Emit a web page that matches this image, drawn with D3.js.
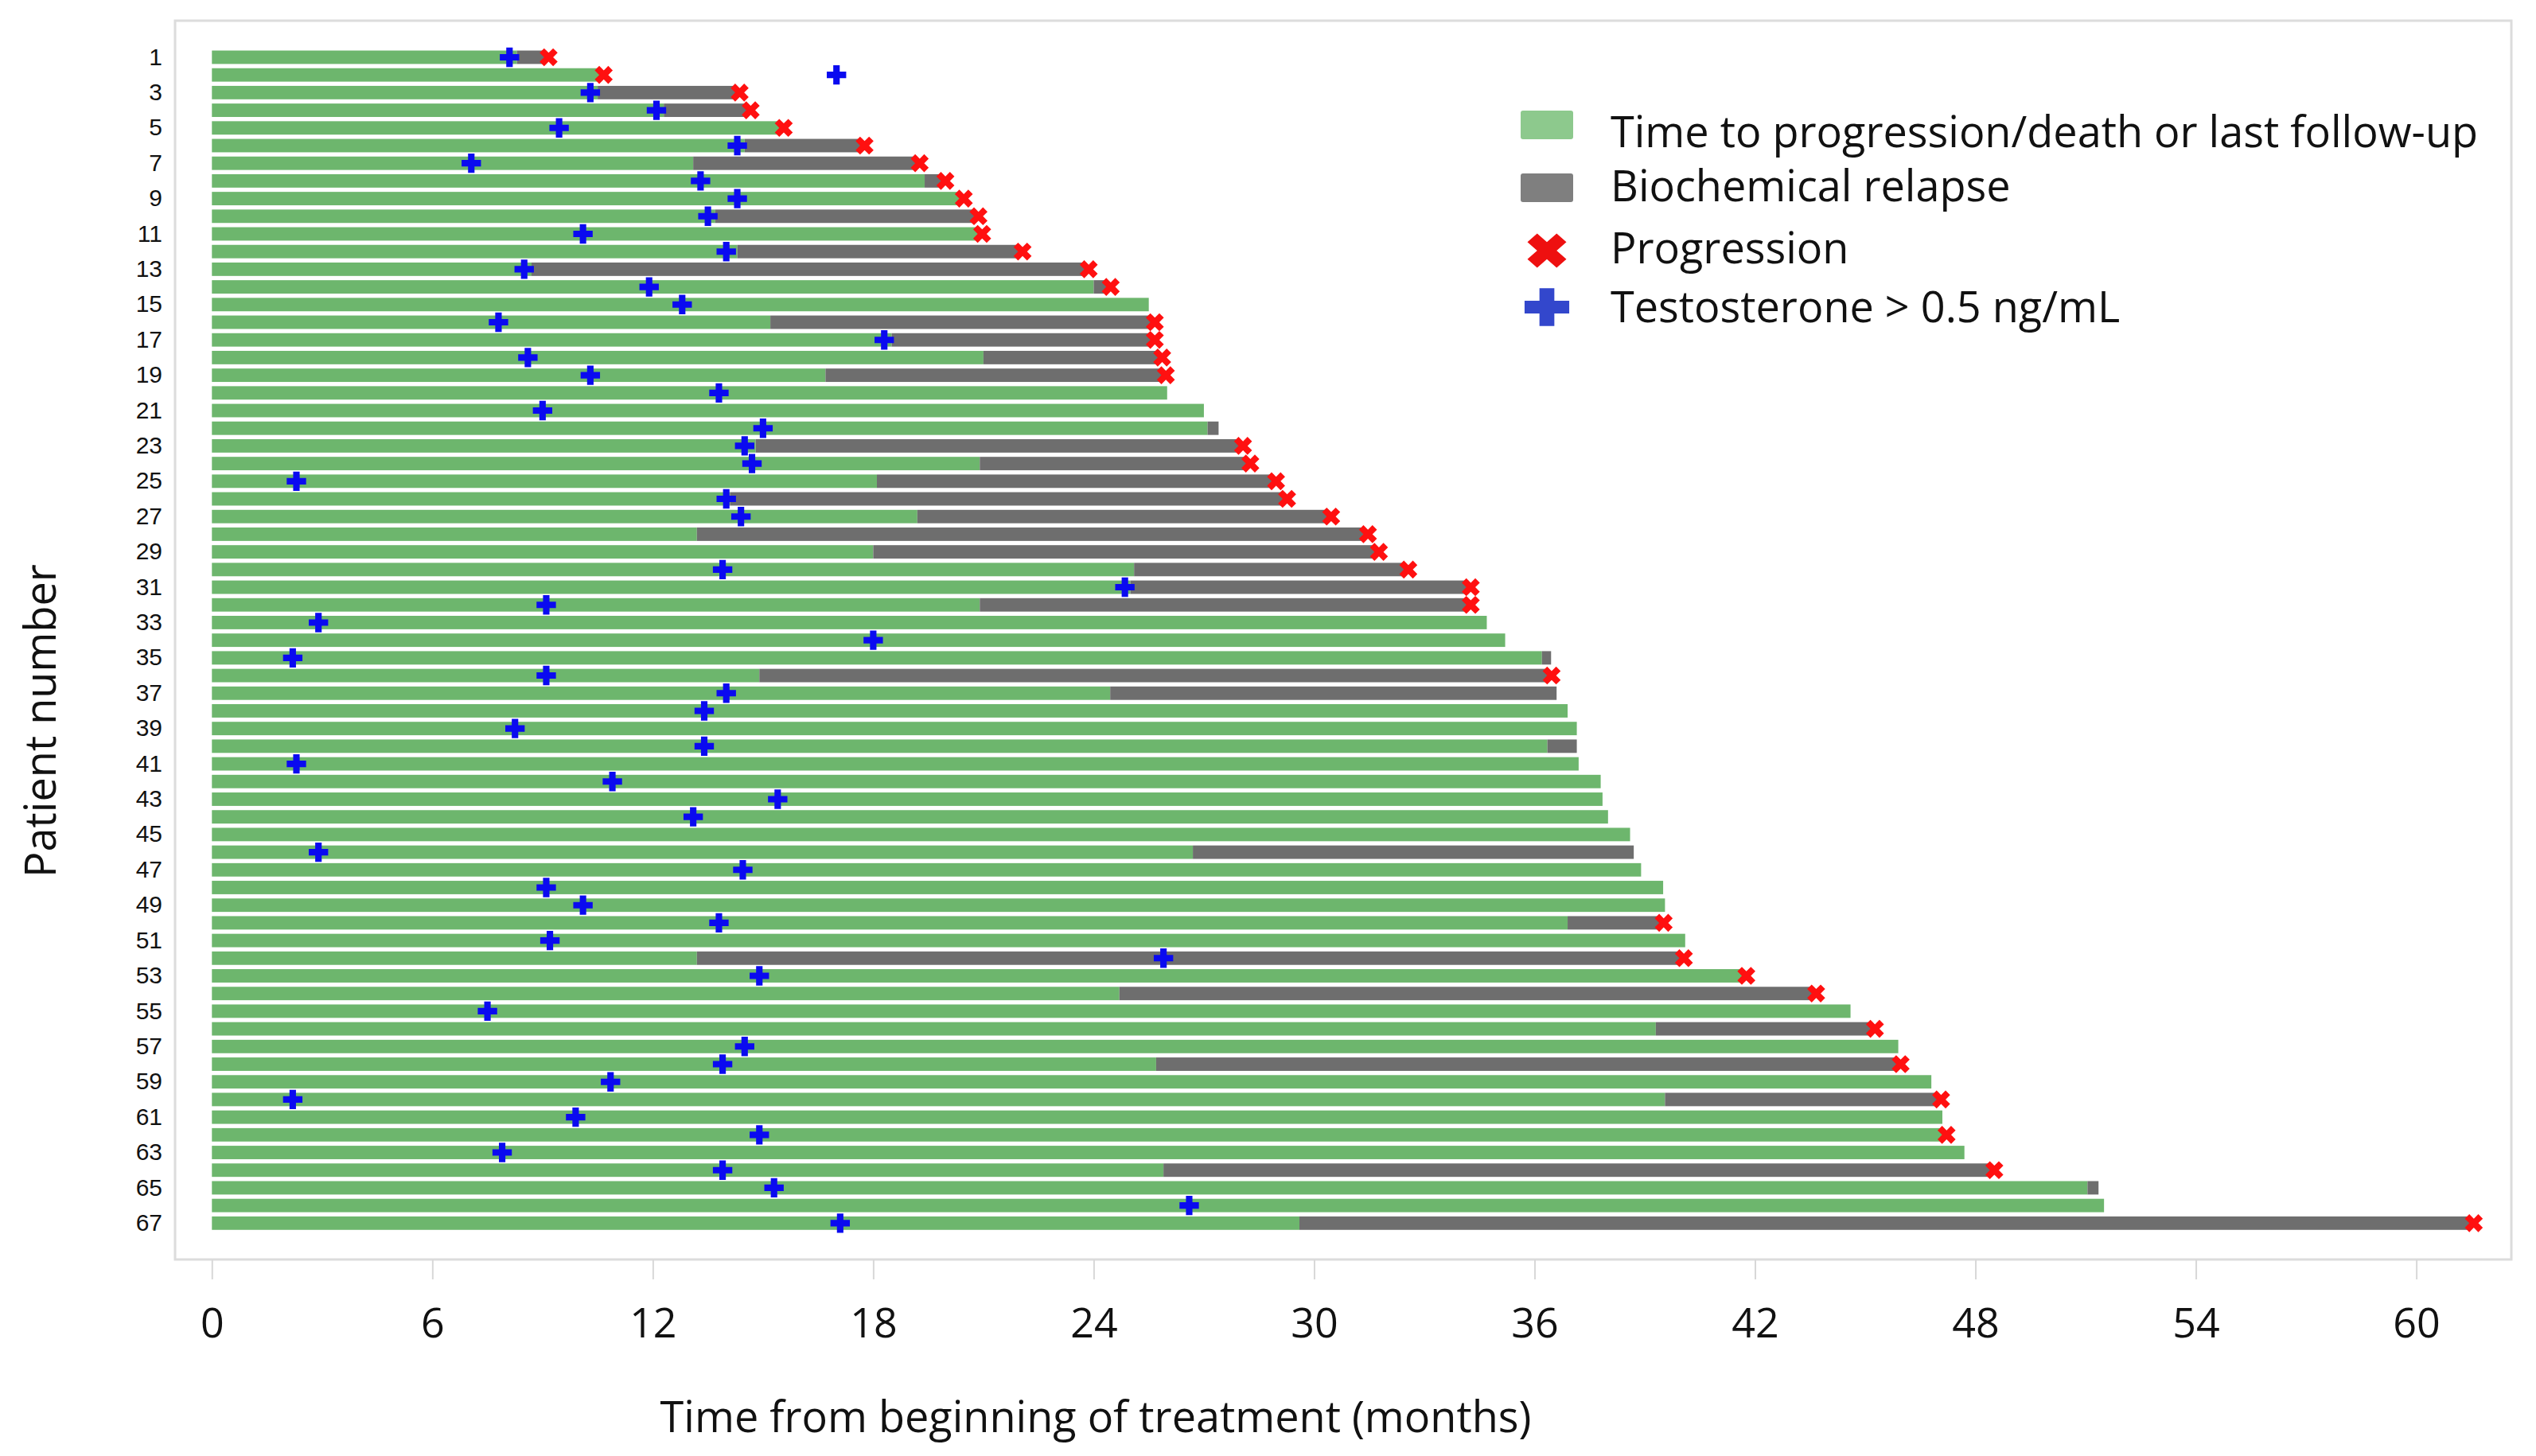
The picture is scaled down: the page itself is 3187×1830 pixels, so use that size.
<!DOCTYPE html>
<html>
<head>
<meta charset="utf-8">
<script src="https://cdn.jsdelivr.net/npm/d3@7"></script>
<style>
  body { margin: 0; background: #fff; }
</style>
</head>
<body>
<div id="chart"></div>
<script>
// patient rows, top to bottom
const patients = d3.range(1, 68);

// months until biochemical relapse (or end of bar if no relapse)
const greenEnd = [
  8.3, 10.6, 10.5, 12.3, 15.5, 14.5, 13.1, 19.4, 20.4, 13.7,
  20.9, 14.3, 8.7, 24.0, 25.5, 15.2, 18.5, 21.0, 16.7, 26.0,
  27.0, 27.1, 14.8, 20.9, 18.1, 14.1, 19.2, 13.2, 18.0, 25.1,
  25.0, 20.9, 34.7, 35.2, 36.2, 14.9, 24.45, 36.9, 37.15, 36.35,
  37.2, 37.8, 37.85, 38.0, 38.6, 26.7, 38.9, 39.5, 39.55, 36.9,
  40.1, 13.2, 41.7, 24.7, 44.6, 39.3, 45.9, 25.7, 46.8, 39.55,
  47.1, 47.15, 47.7, 25.9, 51.05, 51.5, 29.6
];

// months until progression/death or last follow-up
const totalEnd = [
  9.1, 10.6, 14.3, 14.6, 15.5, 17.7, 19.2, 19.9, 20.4, 20.8,
  20.9, 22.0, 23.8, 24.4, 25.5, 25.6, 25.6, 25.8, 25.9, 26.0,
  27.0, 27.4, 28.0, 28.2, 28.9, 29.2, 30.4, 31.4, 31.7, 32.5,
  34.2, 34.2, 34.7, 35.2, 36.45, 36.4, 36.6, 36.9, 37.15, 37.15,
  37.2, 37.8, 37.85, 38.0, 38.6, 38.7, 38.9, 39.5, 39.55, 39.45,
  40.1, 40.0, 41.7, 43.6, 44.6, 45.2, 45.9, 45.9, 46.8, 47.0,
  47.1, 47.15, 47.7, 48.45, 51.35, 51.5, 61.5
];

// 1 = progression marker at end of bar
const progression = [
  1, 1, 1, 1, 1, 1, 1, 1, 1, 1,
  1, 1, 1, 1, 0, 1, 1, 1, 1, 0,
  0, 0, 1, 1, 1, 1, 1, 1, 1, 1,
  1, 1, 0, 0, 0, 1, 0, 0, 0, 0,
  0, 0, 0, 0, 0, 0, 0, 0, 0, 1,
  0, 1, 1, 1, 0, 1, 0, 1, 0, 1,
  0, 1, 0, 1, 0, 0, 1
];

// month testosterone > 0.5 ng/mL (null = never)
const testosterone = [
  8.1, 17.0, 10.3, 12.1, 9.45, 14.3, 7.06, 13.3, 14.3, 13.5,
  10.1, 14.0, 8.5, 11.9, 12.8, 7.8, 18.3, 8.6, 10.3, 13.8,
  9.0, 15.0, 14.5, 14.7, 2.3, 14.0, 14.4, null, null, 13.9,
  24.85, 9.1, 2.9, 18.0, 2.2, 9.1, 14.0, 13.4, 8.25, 13.4,
  2.3, 10.9, 15.4, 13.1, null, 2.9, 14.45, 9.1, 10.1, 13.8,
  9.2, 25.9, 14.9, null, 7.5, null, 14.5, 13.9, 10.85, 2.2,
  9.9, 14.9, 7.9, 13.9, 15.3, 26.6, 17.1
];

const xTicks = [0, 6, 12, 18, 24, 30, 36, 42, 48, 54, 60];

const legendItems = [
  { key: "green", label: "Time to progression/death or last follow-up" },
  { key: "gray", label: "Biochemical relapse" },
  { key: "prog", label: "Progression" },
  { key: "testo", label: "Testosterone > 0.5 ng/mL" }
];

const rows = patients.map((p, i) => ({
  patient: p,
  green: greenEnd[i],
  total: totalEnd[i],
  prog: progression[i],
  testo: testosterone[i]
}));

const W = 3187, H = 1830;
const textFont = "'Open Sans', sans-serif";

const svg = d3.select("#chart").append("svg")
  .attr("width", W)
  .attr("height", H)
  .style("font-family", textFont);

svg.append("rect").attr("width", W).attr("height", H).attr("fill", "#fff");

// plot frame
svg.append("rect")
  .attr("x", 220).attr("y", 26)
  .attr("width", 2936).attr("height", 1557)
  .attr("fill", "none")
  .attr("stroke", "#dcdcdc")
  .attr("stroke-width", 3);

// Scales
const x = d3.scaleLinear().domain([0, 60]).range([266.3, 3036.6]);
const y = d3.scaleBand().domain(patients).range([58.2, 1551.1]).padding(0.24);

// Bars
const bars = svg.append("g").attr("class", "bars");

bars.selectAll("rect.green")
  .data(rows)
  .join("rect")
  .attr("class", "green")
  .attr("x", x(0))
  .attr("y", d => y(d.patient))
  .attr("width", d => x(d.green) - x(0))
  .attr("height", y.bandwidth())
  .attr("fill", "#6db66d");

bars.selectAll("rect.gray")
  .data(rows.filter(d => d.total > d.green))
  .join("rect")
  .attr("class", "gray")
  .attr("x", d => x(d.green))
  .attr("y", d => y(d.patient))
  .attr("width", d => x(d.total) - x(d.green))
  .attr("height", y.bandwidth())
  .attr("fill", "#6e6e6e");

// Markers
const plus = d3.symbol().type(d3.symbolCross).size(330);
const cross = d3.symbol().type(d3.symbolCross).size(320);

svg.append("g").selectAll("path")
  .data(rows.filter(d => d.prog))
  .join("path")
  .attr("d", cross)
  .attr("transform", d => `translate(${x(d.total) + 3},${y(d.patient) + y.bandwidth() / 2}) rotate(45)`)
  .attr("fill", "#ff1010");

svg.append("g").selectAll("path")
  .data(rows.filter(d => d.testo != null))
  .join("path")
  .attr("d", plus)
  .attr("transform", d => `translate(${x(d.testo)},${y(d.patient) + y.bandwidth() / 2})`)
  .attr("fill", "#0a0af0");

// Y axis labels (odd patients)
const yAxis = d3.axisLeft(y)
  .tickValues(patients.filter(p => p % 2 === 1))
  .tickSize(0)
  .tickPadding(0);

const yg = svg.append("g")
  .attr("transform", "translate(204,0)")
  .call(yAxis);
yg.select(".domain").remove();
yg.selectAll("text")
  .style("font-family", "'Liberation Sans', Arial, sans-serif")
  .style("font-size", "30px")
  .attr("fill", "#111");

// X axis
const xAxis = d3.axisBottom(x)
  .tickValues(xTicks)
  .tickSize(25)
  .tickPadding(36);

const xg = svg.append("g")
  .attr("transform", "translate(0,1583)")
  .call(xAxis);
xg.select(".domain").remove();
xg.selectAll("line").attr("stroke", "#d8d8d8").attr("stroke-width", 2);
xg.selectAll("text")
  .style("font-family", textFont)
  .style("font-size", "52px")
  .attr("fill", "#111");

// Axis titles
svg.append("text")
  .attr("x", 1377)
  .attr("y", 1800)
  .attr("text-anchor", "middle")
  .style("font-size", "54px")
  .attr("fill", "#111")
  .text("Time from beginning of treatment (months)");

svg.append("text")
  .attr("transform", "translate(70,906) rotate(-90)")
  .attr("text-anchor", "middle")
  .style("font-size", "54px")
  .attr("fill", "#111")
  .text("Patient number");

// Legend
const markY = [157, 236, 315, 386];
const textBase = [185, 253, 331, 405];
const legend = svg.append("g").attr("class", "legend");

legendItems.forEach((item, i) => {
  const cy = markY[i];
  if (item.key === "green" || item.key === "gray") {
    legend.append("rect")
      .attr("x", 1911).attr("y", cy - 18)
      .attr("width", 66).attr("height", 36)
      .attr("rx", 3)
      .attr("fill", item.key === "green" ? "#8dc98d" : "#7f7f7f");
  } else if (item.key === "prog") {
    legend.append("path")
      .attr("d", d3.symbol().type(d3.symbolCross).size(1500)())
      .attr("transform", `translate(1944,${cy}) scale(1,0.88) rotate(45)`)
      .attr("fill", "#ee1010");
  } else {
    legend.append("path")
      .attr("d", d3.symbol().type(d3.symbolCross).size(1750)())
      .attr("transform", `translate(1944,${cy}) scale(1,0.85)`)
      .attr("fill", "#3347cc");
  }
  legend.append("text")
    .attr("x", 2024)
    .attr("y", textBase[i])
    .style("font-size", "54px")
    .attr("fill", "#111")
    .text(item.label);
});
</script>
</body>
</html>
